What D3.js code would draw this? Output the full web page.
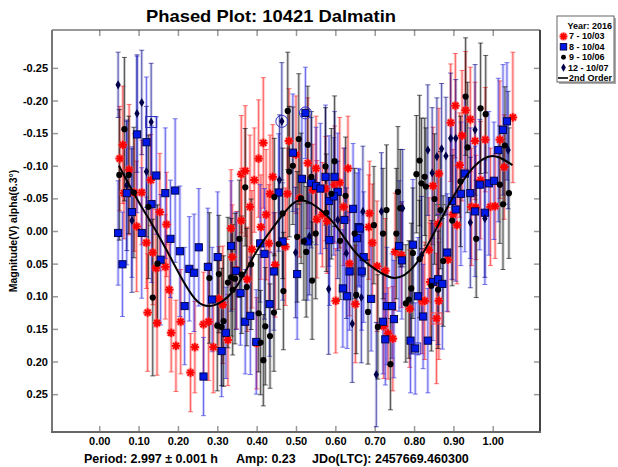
<!DOCTYPE html>
<html><head><meta charset="utf-8">
<script src="https://cdn.jsdelivr.net/npm/d3@7"></script>
<style>
body{margin:0;background:#fff;}
text{font-family:"Liberation Sans",Arial,sans-serif;font-weight:bold;fill:#000;}
</style>
</head><body>
<svg id="c" width="618" height="467"></svg>
<script>
// ---------- DATA ----------
const title = "Phased Plot: 10421 Dalmatin";
const yLabel = "Magnitude(V) alpha(6.3°)";
const footer = ["Period: 2.997 ± 0.001 h", "Amp: 0.23", "JDo(LTC): 2457669.460300"];
const xTicks = [0,0.1,0.2,0.3,0.4,0.5,0.6,0.7,0.8,0.9,1.0];
const xTickLabels = ["0.00","0.10","0.20","0.30","0.40","0.50","0.60","0.70","0.80","0.90","1.00"];
const yTicks = [-0.25,-0.20,-0.15,-0.10,-0.05,0,0.05,0.10,0.15,0.20,0.25];
const yTickLabels = ["-0.25","-0.20","-0.15","-0.10","-0.05","0.00","0.05","0.10","0.15","0.20","0.25"];
const legendTitle = "Year: 2016";
const seriesNames = ["7 - 10/03","8 - 10/04","9 - 10/06","12 - 10/07"];
const fitName = "2nd Order";

// [phase, magnitude, error]
const s7 = [[0.052,-0.111,0.08],[0.060,-0.132,0.09],[0.076,-0.094,0.10],[0.063,-0.058,0.07],[0.089,-0.059,0.09],[0.108,-0.059,0.08],[0.131,-0.078,0.07],[0.154,-0.029,0.09],[0.095,-0.007,0.10],[0.171,-0.010,0.08],
[0.361,-0.087,0.09],[0.371,-0.092,0.10],[0.394,-0.078,0.08],[0.405,-0.111,0.09],[0.383,-0.037,0.11],[0.361,-0.016,0.08],[0.335,-0.004,0.09],
[0.417,-0.135,0.10],[0.441,-0.083,0.08],[0.434,-0.057,0.09],[0.478,-0.057,0.07],[0.482,-0.138,0.08],[0.500,-0.117,0.09],[0.530,-0.104,0.10],[0.551,-0.096,0.08],[0.509,-0.050,0.09],[0.543,-0.063,0.07],[0.575,-0.065,0.08],[0.598,-0.071,0.09],[0.611,-0.074,0.10],[0.632,-0.096,0.08],[0.621,-0.037,0.09],[0.687,-0.027,0.08],[0.424,-0.025,0.10],[0.553,-0.018,0.09],[0.411,-0.006,0.08],[0.863,-0.088,0.10],[0.848,-0.069,0.09],[0.567,-0.025,0.08],
[0.905,-0.192,0.08],[0.931,-0.185,0.09],[0.943,-0.171,0.08],[0.893,-0.166,0.09],[0.922,-0.146,0.10],[0.955,-0.138,0.09],[0.981,-0.140,0.08],[1.018,-0.140,0.09],[1.051,-0.174,0.10],[0.916,-0.101,0.08],[0.969,-0.078,0.09],[1.029,-0.098,0.08],[0.946,-0.037,0.09],[0.957,-0.036,0.08],[0.994,-0.037,0.09],[1.006,-0.038,0.08],[0.899,-0.025,0.10],[0.909,-0.009,0.09],[0.861,-0.011,0.08],
[0.120,0.018,0.07],[0.136,0.033,0.08],[0.144,0.057,0.09],[0.168,0.055,0.08],[0.178,0.090,0.07],[0.123,0.125,0.09],[0.147,0.141,0.08],[0.183,0.156,0.06],[0.195,0.176,0.07],[0.207,0.139,0.08],[0.232,0.217,0.06],[0.243,0.178,0.07],[0.265,0.143,0.08],[0.278,0.139,0.09],[0.290,0.178,0.07],[0.304,0.104,0.08],[0.314,0.113,0.09],[0.327,0.167,0.07],[0.338,0.040,0.08],[0.349,0.060,0.09],[0.376,0.074,0.08],[0.388,0.028,0.09],[0.400,0.172,0.07],
[0.431,0.019,0.09],[0.447,0.052,0.08],[0.473,0.024,0.09],[0.579,-0.015,0.08],[0.601,0.107,0.08],[0.651,0.112,0.09],[0.685,-0.006,0.08],[0.694,0.018,0.09],[0.706,0.054,0.10],[0.727,0.061,0.08],[0.752,0.032,0.09],[0.768,0.037,0.08],[0.723,0.146,0.08],[0.734,0.157,0.07],[0.746,0.165,0.08],[0.789,0.119,0.09],[0.821,0.108,0.08],[0.827,0.107,0.09],[0.838,0.029,0.08],[0.841,0.078,0.09],[0.857,0.134,0.10],[0.636,0.050,0.08],[0.886,0.044,0.08],[0.863,0.107,0.09]];

const s8 = [[0.096,-0.148,0.12],[0.120,-0.136,0.10],[0.145,-0.085,0.09],[0.070,-0.058,0.11],[0.168,-0.058,0.10],[0.193,-0.062,0.11],[0.133,-0.041,0.12],[0.083,-0.029,0.10],
[0.524,-0.181,0.07],[0.492,-0.120,0.09],[0.515,-0.080,0.10],[0.456,-0.059,0.09],[0.539,-0.074,0.10],[0.551,-0.069,0.09],[0.562,-0.065,0.10],[0.575,-0.083,0.11],[0.598,-0.083,0.10],[0.606,-0.060,0.09],[0.584,-0.046,0.10],[0.596,-0.053,0.09],[0.645,-0.034,0.10],[0.623,-0.017,0.11],[0.659,-0.006,0.09],
[1.036,-0.168,0.09],[1.026,-0.155,0.10],[1.014,-0.124,0.11],[0.929,-0.088,0.12],[0.919,-0.057,0.11],[0.943,-0.058,0.10],[0.896,-0.046,0.12],[0.906,-0.033,0.11],[0.967,-0.071,0.10],[0.990,-0.073,0.11],[1.003,-0.077,0.09],[0.955,-0.030,0.10],[0.980,-0.028,0.11],
[0.048,0.003,0.08],[0.108,0.003,0.10],[0.059,0.051,0.08],[0.181,0.012,0.09],[0.205,0.031,0.10],[0.253,0.025,0.09],[0.229,0.058,0.08],[0.241,0.064,0.09],[0.156,0.044,0.10],[0.276,0.055,0.09],[0.301,0.040,0.10],[0.287,0.105,0.08],[0.217,0.115,0.09],[0.335,0.023,0.10],[0.348,0.061,0.09],[0.359,0.095,0.08],[0.371,0.139,0.08],[0.384,0.130,0.09],[0.399,0.170,0.08],[0.322,0.156,0.07],[0.311,0.184,0.07],[0.265,0.223,0.06],
[0.409,0.019,0.09],[0.420,0.035,0.10],[0.444,0.062,0.09],[0.433,0.112,0.08],[0.466,0.016,0.09],[0.503,0.066,0.10],[0.530,0.016,0.09],[0.585,0.014,0.10],[0.619,0.088,0.09],[0.630,0.100,0.08],[0.636,0.062,0.09],[0.655,0.011,0.10],[0.662,-0.004,0.09],[0.672,0.040,0.10],[0.667,0.062,0.09],[0.691,0.104,0.08],[0.721,0.139,0.08],[0.727,0.166,0.07],[0.731,0.115,0.09],[0.744,0.115,0.08],[0.749,0.135,0.09],[0.762,0.023,0.10],[0.769,0.045,0.09],[0.791,0.168,0.08],[0.803,0.180,0.07],[0.797,0.021,0.10],[0.810,0.100,0.09],[0.823,0.131,0.08],[0.835,0.168,0.08],[0.848,0.078,0.09],[0.861,0.074,0.10],[0.884,0.033,0.09],[0.872,0.081,0.10]];

const s9 = [[0.064,-0.156,0.11],[0.051,-0.086,0.10],[0.075,-0.086,0.09],[0.088,-0.059,0.10],[0.125,-0.037,0.11],[0.371,-0.067,0.09],
[0.479,-0.184,0.09],[0.507,-0.141,0.10],[0.492,-0.100,0.09],[0.483,-0.091,0.10],[0.530,-0.132,0.09],[0.513,-0.050,0.10],[0.445,-0.052,0.09],[0.466,-0.027,0.10],[0.539,-0.083,0.10],[0.575,-0.099,0.09],[0.598,-0.107,0.10],[0.626,-0.054,0.09],[0.590,-0.057,0.10],[0.577,-0.028,0.09],[0.730,-0.032,0.10],[0.698,-0.009,0.09],[0.759,-0.060,0.10],[0.765,-0.035,0.09],[0.814,-0.108,0.10],[0.806,-0.087,0.09],[0.819,-0.073,0.10],[0.827,-0.083,0.09],[0.852,-0.049,0.10],[0.830,-0.068,0.09],
[0.931,-0.206,0.09],[0.969,-0.188,0.10],[0.982,-0.179,0.09],[0.936,-0.128,0.10],[1.031,-0.131,0.09],[0.918,-0.076,0.10],[1.018,-0.071,0.09],[1.041,-0.058,0.10],[0.867,-0.032,0.09],[1.026,-0.041,0.10],
[0.148,0.050,0.09],[0.136,0.102,0.12],[0.280,0.072,0.10],[0.304,0.066,0.09],[0.327,0.079,0.10],[0.335,0.071,0.09],[0.345,0.073,0.10],[0.362,0.067,0.09],[0.339,0.090,0.10],[0.375,0.086,0.09],[0.386,0.051,0.10],[0.405,0.126,0.09],[0.300,0.145,0.10],[0.311,0.147,0.09],[0.316,0.138,0.10],[0.356,0.012,0.09],
[0.422,0.146,0.09],[0.434,0.161,0.08],[0.444,0.125,0.09],[0.410,0.171,0.08],[0.417,0.198,0.07],[0.456,0.020,0.10],[0.468,0.092,0.09],[0.503,0.009,0.10],[0.520,0.016,0.09],[0.526,0.032,0.10],[0.541,0.076,0.09],[0.550,0.004,0.10],[0.612,0.015,0.09],[0.649,0.004,0.10],[0.653,0.098,0.09],[0.683,0.124,0.08],[0.721,0.004,0.10],[0.708,0.147,0.08],[0.740,0.204,0.07],[0.755,0.004,0.10],[0.787,0.105,0.09],[0.793,0.088,0.10],[0.779,0.111,0.09],[0.797,0.034,0.10],[0.814,0.043,0.09],[0.844,0.084,0.10],
[0.897,-0.016,0.10],[0.958,0.012,0.09],[0.874,0.046,0.10],[0.861,0.090,0.09]];

const s12 = [[0.048,-0.224,0.05],[0.096,-0.180,0.09],[0.108,-0.197,0.08],[0.132,-0.167,0.09],[0.120,-0.091,0.10],[0.083,-0.016,0.11],[0.070,-0.070,0.10],
[0.464,-0.168,0.09],[0.458,-0.078,0.10],[0.670,-0.030,0.10],[0.717,-0.030,0.09],[0.835,-0.124,0.10],[0.858,-0.114,0.09],[0.846,-0.089,0.10],[0.771,-0.035,0.09],
[0.893,-0.142,0.10],[0.906,-0.142,0.09],[0.955,-0.155,0.10],[1.039,-0.124,0.09],[0.870,-0.126,0.10],[0.881,-0.115,0.09],[0.943,-0.013,0.10],[0.980,-0.019,0.09],
[0.499,0.033,0.10],[0.534,0.008,0.09],[0.583,0.089,0.10],[0.606,-0.017,0.09],[0.628,0.034,0.10],[0.643,0.142,0.09],[0.666,0.102,0.10],[0.704,0.220,0.08],[0.819,0.037,0.09]];

// highlighted (outlined) points: [series index, phase, mag, shape]
const marked = [[3,0.132,-0.167,"box"],[3,0.464,-0.168,"circle"],[1,0.524,-0.181,"circle"],[0,0.857,0.134,"box"],[1,0.803,0.180,"box"],[2,0.867,-0.032,"box"]];

// 2nd-order fit curve
const fitPhase = [0.05,0.10,0.15,0.20,0.25,0.30,0.35,0.40,0.45,0.50,0.55,0.60,0.65,0.70,0.75,0.80,0.85,0.90,0.95,1.00,1.05];
const fitMag   = [-0.100,-0.045,0.006,0.062,0.108,0.112,0.084,0.031,-0.012,-0.045,-0.038,-0.009,0.032,0.058,0.072,0.054,0.004,-0.053,-0.097,-0.115,-0.101];

// ---------- DRAW ----------
const svg = d3.select("#c");
svg.append("rect").attr("width",618).attr("height",467).attr("fill","#fff");
const L=52,R=540,T=30,B=432;
const x = d3.scaleLinear().domain([-0.12,1.12]).range([L,R]);
const y = d3.scaleLinear().domain([-0.308,0.308]).range([T,B]);

const series = [
  {data:s7, light:"rgba(255,0,0,0.22)", dark:"rgba(255,30,30,0.6)", kind:"star"},
  {data:s8, light:"rgba(0,0,255,0.18)", dark:"rgba(40,40,220,0.6)", kind:"square"},
  {data:s9, light:"rgba(0,0,0,0.2)", dark:"rgba(0,0,0,0.6)", kind:"dot"},
  {data:s12, light:"rgba(0,0,160,0.18)", dark:"rgba(0,0,128,0.6)", kind:"diamond"}
];

// axes
const gx = svg.append("g").attr("transform",`translate(0,${B})`)
  .call(d3.axisBottom(x).tickValues(xTicks).tickSize(-6).tickPadding(5).tickFormat((d,i)=>xTickLabels[i]));
const gxt = svg.append("g").attr("transform",`translate(0,${T})`)
  .call(d3.axisTop(x).tickValues(xTicks).tickSize(-6).tickFormat(""));
const gy = svg.append("g").attr("transform",`translate(${L},0)`)
  .call(d3.axisLeft(y).tickValues(yTicks).tickSize(-6).tickPadding(4).tickFormat((d,i)=>yTickLabels[i]));
const gyr = svg.append("g").attr("transform",`translate(${R},0)`)
  .call(d3.axisRight(y).tickValues(yTicks).tickSize(-6).tickFormat(""));
[gx,gxt,gy,gyr].forEach(g=>{
  g.select(".domain").remove();
  g.selectAll(".tick line").attr("stroke","#999").attr("stroke-width",1.5);
  g.selectAll(".tick text").attr("font-size",11).attr("font-family","Liberation Sans, Arial, sans-serif").attr("font-weight","bold").attr("fill","#000");
});

// error bars
const bars = svg.append("g");
series.forEach(s=>{
  const g = bars.append("g");
  s.data.forEach(d=>{
    const xx = x(d[0]), y1 = y(d[1]-d[2]), y2 = y(d[1]+d[2]);
    g.append("line").attr("x1",xx).attr("x2",xx).attr("y1",y1).attr("y2",y2).attr("stroke",s.light).attr("stroke-width",3);
    g.append("line").attr("x1",xx).attr("x2",xx).attr("y1",y1).attr("y2",y2).attr("stroke",s.dark).attr("stroke-width",1);
    [y1,y2].forEach(yy=>g.append("line").attr("x1",xx-2.5).attr("x2",xx+2.5).attr("y1",yy).attr("y2",yy).attr("stroke",s.dark).attr("stroke-width",1));
  });
});

// markers
function drawMarker(g, kind, cx, cy, scale){
  scale = scale||1;
  if(kind==="star"){
    const r=4.2*scale;
    g.append("circle").attr("cx",cx).attr("cy",cy).attr("r",r+0.8).attr("fill","rgba(255,120,120,0.35)");
    [0,45,90,135].forEach(a=>{
      const t=a*Math.PI/180;
      g.append("line").attr("x1",cx-r*Math.cos(t)).attr("y1",cy-r*Math.sin(t))
       .attr("x2",cx+r*Math.cos(t)).attr("y2",cy+r*Math.sin(t))
       .attr("stroke","#ff0000").attr("stroke-width",1.9);
    });
  } else if(kind==="square"){
    const h=3.6*scale;
    g.append("rect").attr("x",cx-h).attr("y",cy-h).attr("width",2*h).attr("height",2*h)
     .attr("fill","#0018e6").attr("stroke","#000040").attr("stroke-width",0.9);
  } else if(kind==="dot"){
    g.append("circle").attr("cx",cx).attr("cy",cy).attr("r",3.1*scale).attr("fill","#000");
  } else {
    g.append("path").attr("d",d3.symbol(d3.symbolDiamond).size(24*scale*scale)())
     .attr("transform",`translate(${cx},${cy})`).attr("fill","#00004a");
  }
}
const marks = svg.append("g");
series.forEach(s=>{
  s.data.forEach(d=>drawMarker(marks, s.kind, x(d[0]), y(d[1])));
});
const hl = svg.append("g");
const hlColors = ["#ff4040","#3030d0","#555","#3030c0"];
marked.forEach(m=>{
  const cx=x(m[1]), cy=y(m[2]);
  if(m[3]==="box") hl.append("rect").attr("x",cx-5.5).attr("y",cy-5.5).attr("width",11).attr("height",11)
      .attr("fill","none").attr("stroke",hlColors[m[0]]).attr("stroke-width",1);
  else hl.append("circle").attr("cx",cx).attr("cy",cy).attr("r",6).attr("fill","none").attr("stroke",hlColors[m[0]]).attr("stroke-width",1);
});

// fit curve
const fit = fitPhase.map((p,i)=>[p,fitMag[i]]);
svg.append("path").datum(fit)
  .attr("d",d3.line().x(d=>x(d[0])).y(d=>y(d[1])).curve(d3.curveNatural))
  .attr("fill","none").attr("stroke","#000").attr("stroke-width",2);

// frame
svg.append("line").attr("x1",L).attr("x2",R).attr("y1",T).attr("y2",T).attr("stroke","#333").attr("stroke-width",1);
svg.append("line").attr("x1",R).attr("x2",R).attr("y1",T).attr("y2",B+1).attr("stroke","#444").attr("stroke-width",2);
svg.append("line").attr("x1",L).attr("x2",L).attr("y1",T).attr("y2",B+1).attr("stroke","#777").attr("stroke-width",2);
svg.append("line").attr("x1",L-1).attr("x2",R+1).attr("y1",B).attr("y2",B).attr("stroke","#666").attr("stroke-width",2);

// title
svg.append("text").attr("x",271).attr("y",22).attr("text-anchor","middle").attr("font-size",17)
  .attr("textLength",250).attr("lengthAdjust","spacingAndGlyphs").text(title);
// y label
svg.append("text").attr("transform","translate(17,231) rotate(-90)").attr("text-anchor","middle")
  .attr("font-size",10.5).text(yLabel);
// footer
const fx=[84,236,312];
footer.forEach((t,i)=>svg.append("text").attr("x",fx[i]).attr("y",463).attr("font-size",12.5).text(t));

// legend
const lg = svg.append("g");
lg.append("rect").attr("x",559).attr("y",18).attr("width",57).attr("height",66).attr("fill","#aaa");
lg.append("rect").attr("x",557).attr("y",16).attr("width",57).attr("height",66).attr("fill","#fff").attr("stroke","#666").attr("stroke-width",1);
const rowY = i=>26+i*10.4;
lg.append("text").attr("x",612).attr("y",rowY(0)+3).attr("text-anchor","end").attr("font-size",9).text(legendTitle);
series.forEach((s,i)=>{
  drawMarker(lg, s.kind, 563.5, rowY(i+1), s.kind==="dot"?0.8:0.9);
  lg.append("text").attr("x",i===3?568:569).attr("y",rowY(i+1)+3).attr("font-size",9).text(seriesNames[i]);
});
lg.append("line").attr("x1",558).attr("x2",568).attr("y1",rowY(5)).attr("y2",rowY(5)).attr("stroke","#000").attr("stroke-width",1.6);
lg.append("text").attr("x",569).attr("y",rowY(5)+3).attr("font-size",9).text(fitName);
</script>
</body></html>
